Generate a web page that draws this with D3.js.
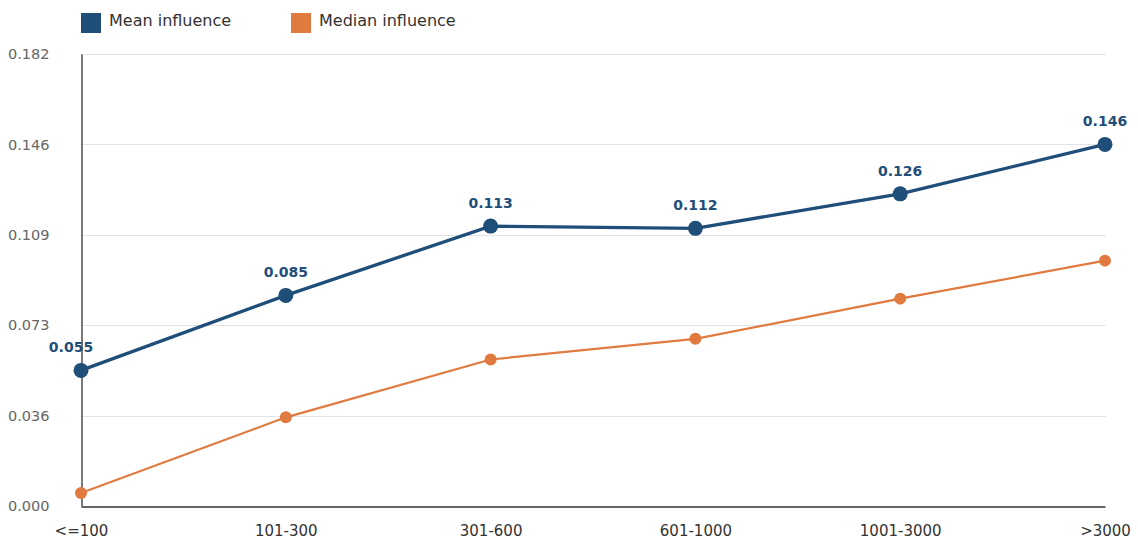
<!DOCTYPE html>
<html>
  <head>
    <meta charset="UTF-8" />
    <script src="https://d3js.org/d3.v7.min.js"></script>
    <style>
      body { margin: 0; background: #fff; }
      text { font-family: "DejaVu Sans", sans-serif; }
    </style>
  </head>
  <body>
    <svg width="1138" height="544"></svg>

    <script>
      const categories = ["<=100", "101-300", "301-600", "601-1000", "1001-3000", ">3000"];
      const meanInfluence = [0.0546, 0.0848, 0.1127, 0.1118, 0.1257, 0.1456];
      const medianInfluence = [0.0052, 0.0357, 0.0590, 0.0673, 0.0835, 0.0988];
      const yTicks = [0, 0.0364, 0.0728, 0.1092, 0.1456, 0.182];
      const seriesNames = ["Mean influence", "Median influence"];

      const meanColor = "#1f4e79";
      const medianColor = "#e07a3f";

      const svg = d3.select("svg");

      const x = d3.scalePoint().domain(categories).range([81, 1105]);
      const y = d3.scaleLinear().domain([0, 0.182]).range([506, 54]);

      // grid
      svg.append("g")
        .selectAll("line")
        .data(yTicks.slice(1))
        .enter()
        .append("line")
        .attr("x1", 81)
        .attr("x2", 1106)
        .attr("y1", d => Math.round(y(d)) + 0.5)
        .attr("y2", d => Math.round(y(d)) + 0.5)
        .attr("stroke", "#e3e3e3")
        .attr("stroke-width", 1);

      // y axis
      const yAxis = d3.axisLeft(y).tickValues(yTicks).tickSize(0).tickPadding(32)
        .tickFormat(d3.format(".3f"));
      const gy = svg.append("g").attr("transform", "translate(81.5,0)").call(yAxis);
      gy.select(".domain").attr("stroke", "#333").attr("stroke-width", 1.3);
      gy.selectAll("text").attr("fill", "#666").style("font-size", "14.5px");

      // x axis
      const xAxis = d3.axisBottom(x).tickSize(0).tickPadding(19);
      const gx = svg.append("g").attr("transform", "translate(0,506.5)").call(xAxis);
      gx.select(".domain").attr("stroke", "#333").attr("stroke-width", 1.3);
      gx.selectAll("text").attr("fill", "#333").style("font-size", "15px");

      const line = d3.line()
        .x((d, i) => x(categories[i]))
        .y(d => y(d));

      // median series
      svg.append("path")
        .datum(medianInfluence)
        .attr("fill", "none")
        .attr("stroke", medianColor)
        .attr("stroke-width", 2.2)
        .attr("d", line);
      svg.append("g")
        .selectAll("circle")
        .data(medianInfluence)
        .enter()
        .append("circle")
        .attr("cx", (d, i) => x(categories[i]))
        .attr("cy", d => y(d))
        .attr("r", 6)
        .attr("fill", medianColor);

      // mean series
      svg.append("path")
        .datum(meanInfluence)
        .attr("fill", "none")
        .attr("stroke", meanColor)
        .attr("stroke-width", 3.3)
        .attr("d", line);
      svg.append("g")
        .selectAll("circle")
        .data(meanInfluence)
        .enter()
        .append("circle")
        .attr("cx", (d, i) => x(categories[i]))
        .attr("cy", d => y(d))
        .attr("r", 7.5)
        .attr("fill", meanColor);

      svg.append("g")
        .selectAll("text")
        .data(meanInfluence)
        .enter()
        .append("text")
        .attr("x", (d, i) => x(categories[i]) - 10 * (i === 0) )
        .attr("y", d => y(d) - 18)
        .attr("text-anchor", "middle")
        .attr("fill", meanColor)
        .style("font-size", "14px")
        .style("font-weight", "bold")
        .text(d => d3.format(".3f")(d));

      // legend
      const legend = svg.append("g")
        .selectAll("g")
        .data(seriesNames)
        .enter()
        .append("g")
        .attr("transform", (d, i) => "translate(" + (81 + i * 210) + ",13)");
      legend.append("rect")
        .attr("width", 20)
        .attr("height", 20)
        .attr("fill", (d, i) => (i === 0 ? meanColor : medianColor));
      legend.append("text")
        .attr("x", 28)
        .attr("y", 13)
        .attr("fill", "#333")
        .style("font-size", "16px")
        .text(d => d);
    </script>
  </body>
</html>
